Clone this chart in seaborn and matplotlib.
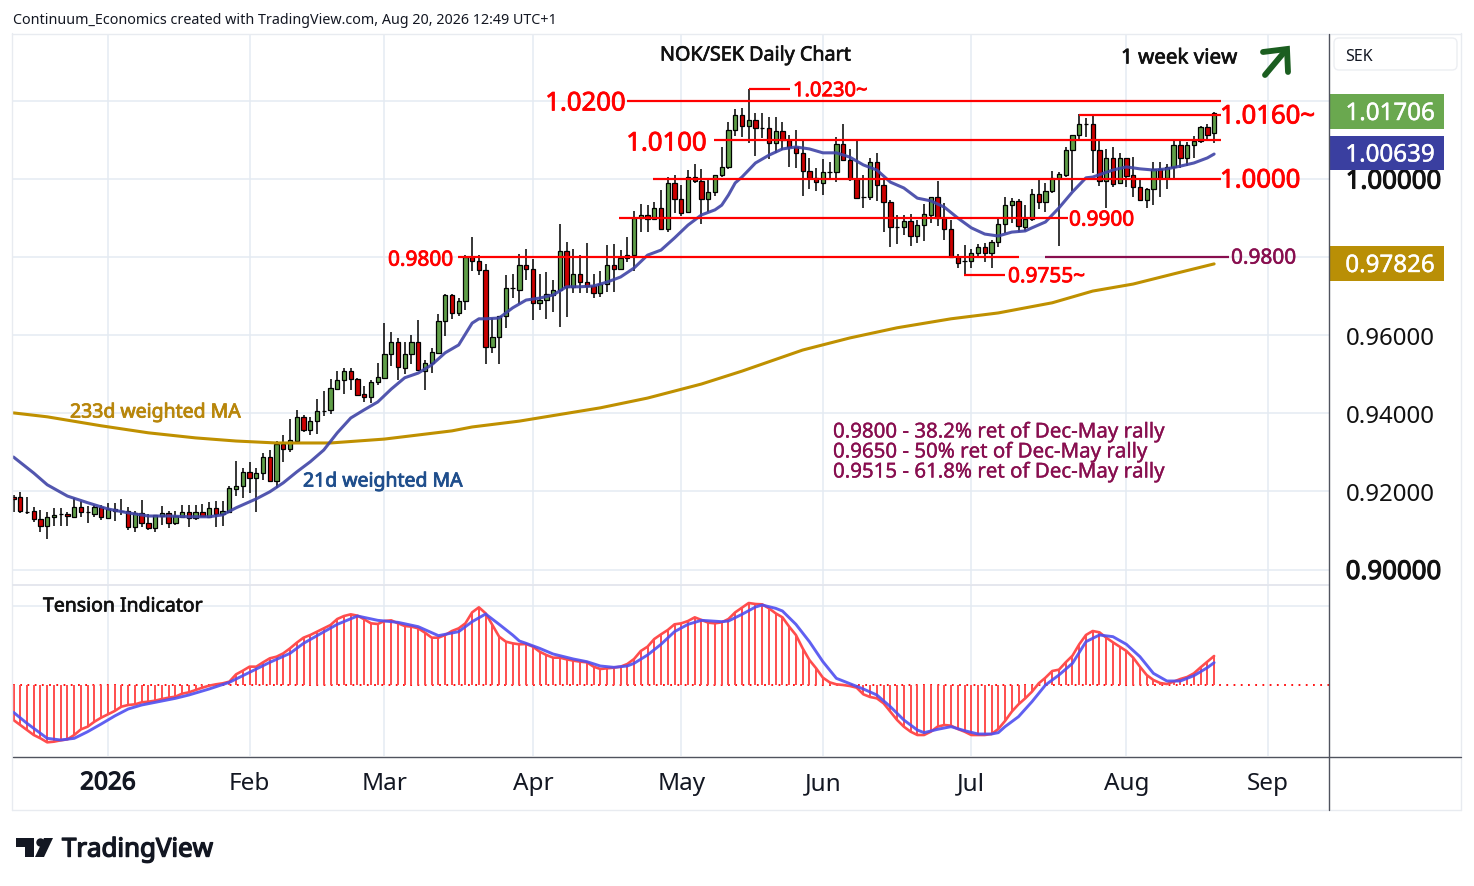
import matplotlib
matplotlib.use('Agg')
import matplotlib.pyplot as plt
import matplotlib.patheffects as pe
import numpy as np
import pandas as pd
import seaborn as sns
from matplotlib.patches import Rectangle, Polygon, Circle, FancyBboxPatch

# daily candles
open_vals = [
    .9185, .9185, .9148, .9149, .9129, .9112, .9134, .9141, .9141, .9135,
    .9159, .9147, .9143, .9159, .9133, .9154, .9151, .9149, .9108, .9144,
    .9118, .9106, .9138, .9144, .9118, .9135, .9147, .9131, .9147, .9135,
    .9157, .9141, .9148, .9207, .9213, .9249, .9235, .9246, .9287, .9226,
    .9322, .9308, .9330, .9391, .9356, .9381, .9407, .9409, .9463, .9484,
    .9508, .9487, .9449, .9443, .9479, .9491, .9551, .9582, .9517, .9551,
    .9582, .9509, .9528, .9555, .9636, .9702, .9656, .9687, .9801, .9789,
    .9766, .9569, .9596, .9648, .9720, .9717, .9781, .9769, .9682, .9689,
    .9703, .9715, .9815, .9724, .9756, .9735, .9727, .9707, .9730, .9781,
    .9770, .9797, .9806, .9899, .9909, .9897, .9925, .9871, .9989, .9948,
    .9915, 1.0006, .9994, .9948, .9966, 1.0009, 1.0030, 1.0125, 1.0163, 1.0135,
    1.0150, 1.0131, 1.0130, 1.0091, 1.0122, 1.0100, 1.0081, 1.0066, 1.0021, 1.0002,
    .9991, 1.0019, 1.0019, 1.0089, 1.0048, 1.0000, .9955, .9955, 1.0043, .9984,
    .9942, .9878, .9878, .9892, .9855, .9881, .9909, .9953, .9901, .9873,
    .9801, .9789, .9789, .9810, .9826, .9810, .9838, .9884, .9933, .9943,
    .9878, .9897, .9961, .9942, .9968, 1.0002, 1.0011, 1.0073, 1.0112, 1.0142,
    1.0142, 1.0073, .9994, 1.0053, .9989, 1.0053, 1.0009, .9980, .9947, .9974,
    1.0025, 1.0003, 1.0030, 1.0086, 1.0055, 1.0086, 1.0097, 1.0132, 1.0118]
close_vals = [
    .9180, .9149, .9148, .9129, .9112, .9134, .9139, .9141, .9136, .9159,
    .9147, .9147, .9159, .9134, .9154, .9149, .9151, .9108, .9144, .9118,
    .9106, .9139, .9144, .9118, .9137, .9147, .9131, .9147, .9136, .9157,
    .9141, .9149, .9208, .9213, .9249, .9235, .9246, .9287, .9226, .9322,
    .9308, .9332, .9391, .9356, .9381, .9407, .9407, .9464, .9484, .9508,
    .9487, .9448, .9443, .9479, .9492, .9551, .9582, .9518, .9551, .9582,
    .9510, .9528, .9556, .9636, .9702, .9656, .9687, .9801, .9789, .9766,
    .9569, .9596, .9648, .9720, .9720, .9781, .9769, .9682, .9689, .9705,
    .9715, .9815, .9724, .9756, .9735, .9727, .9707, .9730, .9781, .9770,
    .9797, .9806, .9899, .9909, .9897, .9925, .9871, .9989, .9948, .9914,
    1.0006, .9994, .9948, .9966, 1.0009, 1.0030, 1.0125, 1.0163, 1.0135, 1.0150,
    1.0131, 1.0131, 1.0091, 1.0122, 1.0100, 1.0081, 1.0066, 1.0021, 1.0002, .9992,
    1.0017, 1.0019, 1.0089, 1.0048, 1.0000, .9952, .9955, 1.0043, .9984, .9942,
    .9876, .9878, .9892, .9855, .9881, .9910, .9953, .9901, .9873, .9801,
    .9786, .9789, .9810, .9826, .9810, .9838, .9884, .9933, .9943, .9879,
    .9897, .9961, .9942, .9968, 1.0002, 1.0012, 1.0073, 1.0113, 1.0140, 1.0142,
    1.0073, .9994, 1.0053, .9988, 1.0053, 1.0008, .9980, .9947, .9974, 1.0025,
    1.0003, 1.0030, 1.0086, 1.0055, 1.0086, 1.0097, 1.0132, 1.0112, 1.0170]
high_vals = [
    .9191, .9198, .9185, .9159, .9153, .9147, .9157, .9157, .9147, .9182,
    .9176, .9163, .9165, .9165, .9170, .9170, .9180, .9159, .9151, .9178,
    .9142, .9139, .9163, .9151, .9151, .9164, .9164, .9164, .9168, .9173,
    .9175, .9175, .9213, .9278, .9259, .9275, .9259, .9298, .9306, .9328,
    .9345, .9386, .9409, .9396, .9391, .9437, .9457, .9487, .9508, .9517,
    .9517, .9490, .9471, .9486, .9530, .9630, .9607, .9593, .9582, .9601,
    .9639, .9537, .9566, .9654, .9706, .9706, .9694, .9805, .9852, .9805,
    .9782, .9643, .9650, .9754, .9758, .9808, .9822, .9794, .9758, .9763,
    .9741, .9885, .9838, .9822, .9805, .9835, .9758, .9765, .9831, .9833,
    .9818, .9851, .9918, .9935, .9933, .9942, .9972, 1.0006, 1.0010, .9985,
    1.0023, 1.0038, 1.0025, 1.0000, 1.0009, 1.0083, 1.0145, 1.0179, 1.0181, 1.0230,
    1.0168, 1.0168, 1.0158, 1.0160, 1.0147, 1.0113, 1.0125, 1.0097, 1.0053, 1.0027,
    1.0050, 1.0043, 1.0107, 1.0141, 1.0078, 1.0097, 1.0010, 1.0053, 1.0066, .9999,
    .9946, .9908, .9908, .9910, .9895, .9936, .9953, .9995, .9939, .9895,
    .9808, .9831, .9820, .9833, .9837, .9844, .9899, .9953, .9951, .9949,
    .9933, .9974, .9997, .9989, 1.0020, 1.0019, 1.0081, 1.0113, 1.0166, 1.0155,
    1.0164, 1.0100, 1.0078, 1.0083, 1.0066, 1.0053, 1.0057, .9997, .9978, 1.0044,
    1.0044, 1.0038, 1.0098, 1.0100, 1.0096, 1.0110, 1.0136, 1.0142, 1.0172]
low_vals = [
    .9148, .9144, .9142, .9121, .9097, .9077, .9112, .9112, .9112, .9132,
    .9135, .9120, .9135, .9126, .9130, .9125, .9140, .9101, .9097, .9110,
    .9100, .9096, .9115, .9107, .9114, .9131, .9110, .9127, .9134, .9134,
    .9110, .9112, .9144, .9187, .9182, .9195, .9147, .9229, .9225, .9208,
    .9276, .9300, .9328, .9353, .9345, .9347, .9393, .9398, .9460, .9450,
    .9460, .9447, .9429, .9426, .9473, .9490, .9522, .9484, .9501, .9526,
    .9508, .9460, .9504, .9552, .9599, .9642, .9650, .9665, .9765, .9754,
    .9526, .9555, .9526, .9618, .9695, .9680, .9741, .9639, .9664, .9642,
    .9660, .9622, .9646, .9707, .9707, .9707, .9696, .9698, .9711, .9711,
    .9770, .9787, .9765, .9863, .9865, .9895, .9869, .9863, .9912, .9904,
    .9914, .9989, .9885, .9916, .9957, 1.0006, 1.0025, 1.0110, 1.0108, 1.0093,
    1.0059, 1.0104, 1.0051, 1.0066, 1.0074, 1.0030, 1.0027, .9957, .9974, .9970,
    .9959, .9999, .9993, 1.0046, .9995, .9949, .9927, .9946, .9944, .9865,
    .9827, .9833, .9857, .9829, .9835, .9841, .9888, .9880, .9844, .9799,
    .9771, .9754, .9771, .9801, .9787, .9773, .9827, .9861, .9887, .9863,
    .9867, .9893, .9923, .9916, .9963, .9829, 1.0004, .9970, 1.0102, 1.0108,
    1.0016, .9983, .9926, .9980, .9988, .9980, .9955, .9946, .9927, .9933,
    .9955, .9975, 1.0003, 1.0029, 1.0033, 1.0054, 1.0091, 1.0102, 1.0093]

# moving averages, read at the bars listed
ma21_bars = [0, 3, 5, 8, 11, 14, 17, 20, 23, 26, 29, 31, 33, 36, 38, 40, 42, 44, 46, 48, 50, 52, 54, 56, 58, 60,
             62, 64, 66, 68, 69, 70, 72, 74, 76, 78, 80, 82, 84, 86, 88, 90, 92, 94, 96, 98, 100, 102, 104, 105,
             106, 107, 108, 110, 112, 114, 116, 118, 120, 122, 124, 126, 128, 130, 132, 134, 136, 138, 140, 142,
             144, 146, 148, 150, 151, 153, 155, 157, 159, 160, 163, 165, 167, 169, 171, 173, 175, 177, 178]
ma21_vals = [.9288, .9247, .9217, .9188, .9171, .9155, .9145, .9137, .9137, .9135, .9135, .9140, .9158, .9181,
             .9199, .9222, .9250, .9276, .9306, .9350, .9388, .9409, .9429, .9462, .9491, .9503, .9524, .9555,
             .9575, .9631, .9642, .9642, .9644, .9670, .9690, .9695, .9703, .9724, .9724, .9726, .9736, .9749,
             .9772, .9805, .9818, .9849, .9882, .9908, .9921, .9933, .9959, .9990, 1.0005, 1.0041, 1.0061, 1.0077,
             1.0082, 1.0077, 1.0067, 1.0067, 1.0056, 1.0036, 1.0023, .9992, .9977, .9951, .9944, .9928, .9900,
             .9875, .9859, .9854, .9864, .9867, .9875, .9890, .9926, .9967, 1.0003, 1.0005, 1.0023, 1.0031,
             1.0026, 1.0023, 1.0026, 1.0033, 1.0041, 1.0054, 1.00639]
ma233_bars = [0, 5, 13, 20, 27, 33, 39, 47, 55, 65, 68, 75, 87, 94, 102, 108, 117, 124, 131, 139, 146, 154, 160,
              166, 172, 178]
ma233_vals = [.9401, .9391, .9368, .9350, .9337, .9329, .9324, .9324, .9334, .9355, .9365, .9380, .9414, .9439,
              .9475, .9508, .9562, .9593, .9619, .9642, .9657, .9683, .9713, .9731, .9757, .97826]

# tension indicator (arbitrary units, axis is not labelled)
tension_vals = [
    -105, -120, -135, -150, -160, -172, -170, -166, -163, -150,
    -133, -125, -110, -98, -88, -78, -65, -60, -58, -52,
    -50, -47, -42, -38, -35, -26, -22, -15, -8, -2,
    2, 5, 10, 32, 43, 55, 55, 68, 80, 85,
    95, 110, 127, 142, 150, 160, 170, 180, 198, 207,
    212, 208, 197, 185, 183, 192, 194, 185, 177, 175,
    170, 157, 142, 142, 150, 162, 170, 185, 218, 233,
    215, 180, 145, 130, 125, 122, 123, 115, 100, 90,
    82, 82, 77, 73, 70, 68, 55, 48, 50, 52,
    55, 63, 78, 102, 115, 138, 152, 165, 182, 185,
    192, 203, 195, 187, 185, 188, 198, 218, 232, 246,
    243, 242, 230, 215, 203, 175, 150, 110, 75, 50,
    22, 8, 2, 0, -3, -8, -28, -36, -40, -55,
    -80, -105, -125, -140, -150, -150, -140, -125, -120, -122,
    -132, -140, -150, -150, -150, -147, -132, -108, -80, -58,
    -40, -20, 5, 22, 42, 46, 68, 88, 122, 150,
    162, 158, 142, 128, 115, 102, 82, 55, 30, 15,
    6, 3, 10, 18, 24, 35, 53, 70, 87]
signal_bars = [0, 2, 4, 5, 7, 9, 11, 13, 15, 17, 19, 21, 24, 26, 29, 32, 34, 36, 38, 41, 43, 45, 48, 51, 54, 57, 60,
               63, 66, 68, 70, 72, 74, 75, 76, 78, 80, 83, 85, 87, 89, 91, 92, 94, 96, 98, 100, 102, 105, 106, 108,
               110, 111, 113, 114, 116, 118, 120, 122, 124, 126, 128, 130, 132, 134, 135, 137, 139, 141, 143, 145,
               146, 147, 149, 151, 153, 155, 157, 159, 161, 163, 165, 167, 169, 171, 173, 175, 177, 178]
signal_vals = [-82, -115, -145, -160, -165, -160, -140, -117, -93, -72, -60, -52, -40, -30, -12, 8, 28, 48, 68, 95,
               125, 148, 182, 207, 194, 188, 175, 148, 160, 190, 213, 182, 150, 132, 125, 110, 93, 78, 70, 57, 53,
               57, 65, 90, 122, 160, 182, 194, 190, 192, 212, 234, 240, 230, 222, 182, 130, 70, 20, 4, -12, -30,
               -65, -105, -135, -143, -133, -125, -137, -147, -147, -143, -125, -95, -50, 0, 30, 65, 130, 150, 145,
               122, 85, 35, 12, 12, 28, 52, 67]

month_bars = [14, 35, 55, 77, 99, 120, 142, 165, 186]
month_labels = ['2026', 'Feb', 'Mar', 'Apr', 'May', 'Jun', 'Jul', 'Aug', 'Sep']
price_ticks = [0.90, 0.92, 0.94, 0.96, 0.98, 1.00, 1.02]

last_close = 1.01706

# red support / resistance levels: price, label
level_prices = [1.0230, 1.0200, 1.0164, 1.0100, 1.0000, 0.9900, 0.9800, 0.9755]
level_labels = ['1.0230~', '1.0200', '1.0160~', '1.0100', '1.0000', '0.9900', '0.9800', '0.9755~']
retrace_price = 0.9800
retrace_lines = ['0.9800 - 38.2% ret of Dec-May rally',
                 '0.9650 - 50% ret of Dec-May rally',
                 '0.9515 - 61.8% ret of Dec-May rally']

# layout, in pixels of the 1474x887 picture
W, H = 1474, 887
LEFT, RIGHT = 13, 1329
MAIN_TOP, MAIN_BOT = 35, 585
LOW_TOP, LOW_BOT = 586, 757
BAR0, BAR_STEP = 13.5, 6.745
# level: x from, x to, label x, label anchor, font size, label drop
level_layout = [(749, 790, 793, 'left', 14.5, 2), (627, 1221, 626, 'right', 18.5, 3),
                (1079, 1221, 1220, 'left', 18.5, 2), (714, 1221, 707, 'right', 18.5, 4),
                (653, 1221, 1220, 'left', 18.5, 2), (619, 1068, 1069, 'left', 15, 2),
                (458, 1019, 453, 'right', 15, 3), (964, 1005, 1008, 'left', 15, 2)]

GRID = '#e4ebf2'
GREEN = '#5f9e48'
RED = '#cc0000'
LEVEL = '#ff0000'
PURPLE = '#880e4f'
BLUE = '#3f44a6'
GOLD = '#bf9000'
TEXT_DROP = 2.5


def bar_at(px):
    return (px - BAR0) / BAR_STEP


def pane(top, bottom):
    return [LEFT / W, 1 - bottom / H, (RIGHT - LEFT) / W, (bottom - top) / H]


# Noto Sans only ships a regular weight here, so thicken it with an outline
def heavy(color, width=0.5):
    return [pe.withStroke(linewidth=width, foreground=color)]


sns.set_theme(style='white')
plt.rcParams['font.family'] = ['Noto Sans', 'DejaVu Sans']

candles = pd.DataFrame({'open': open_vals, 'high': high_vals, 'low': low_vals, 'close': close_vals})
candles['bar'] = candles.index
candles['color'] = np.where(candles['close'] >= candles['open'], GREEN, RED)

fig = plt.figure(figsize=(W / 100, H / 100), dpi=100, facecolor='white')
ax = fig.add_axes(pane(MAIN_TOP, MAIN_BOT))
low = fig.add_axes(pane(LOW_TOP, LOW_BOT))
for a in (ax, low):
    a.set_xlim(bar_at(LEFT), bar_at(RIGHT))
    a.set_xticks(month_bars)
    a.grid(True, color=GRID, lw=1.1)
    a.set_axisbelow(True)
    sns.despine(ax=a, left=True, bottom=True, right=True, top=True)

# price pane
ax.set_ylim(1 + (180 - MAIN_BOT) / 3905, 1 + (180 - MAIN_TOP) / 3905)
ax.yaxis.tick_right()
ax.set_yticks(price_ticks)
ax.set_yticklabels([f'{p:.5f}' for p in price_ticks], fontsize=17.3, color='#111111')
ax.tick_params(axis='y', length=0, pad=12)
ax.tick_params(axis='x', length=0, labelbottom=False)
for i in (0, 5):
    tick = ax.get_yticklabels()[i]
    tick.set_fontsize(18.6)
    tick.set_path_effects(heavy('#111111', 0.8))

ax.vlines(candles['bar'], candles['low'], candles['high'], color='black', lw=1.1, zorder=2)
ax.bar(candles['bar'], (candles['close'] - candles['open']), bottom=candles['open'], width=0.64,
       color=candles['color'], edgecolor='black', linewidth=0.9, zorder=3)
sns.lineplot(x=ma233_bars, y=ma233_vals, color=GOLD, lw=2.2, ax=ax, zorder=4)
sns.lineplot(x=ma21_bars, y=ma21_vals, color=BLUE, lw=2.2, alpha=0.9, ax=ax, zorder=4)

for price, label_text, (x0, x1, tx, anchor, size, drop) in zip(level_prices, level_labels, level_layout):
    ax.hlines(price, bar_at(x0), bar_at(x1), color=LEVEL, lw=1.6, zorder=5)
    ax.annotate(label_text, (bar_at(tx), price), xytext=(0, -drop * 0.72), textcoords='offset points',
                color=LEVEL, fontsize=size, ha=anchor, va='center', zorder=6, path_effects=heavy(LEVEL, 0.6))
ax.hlines(retrace_price, bar_at(1045), bar_at(1229), color=PURPLE, lw=1.6, zorder=5)
ax.annotate('0.9800', (bar_at(1231), retrace_price), xytext=(0, -0.72), textcoords='offset points', color=PURPLE,
            fontsize=15, va='center', zorder=6, path_effects=heavy(PURPLE, 0.4))

# tension indicator pane
low.set_ylim(-213, 300)
low.set_yticks([237])
low.tick_params(axis='y', length=0, labelleft=False)
low.set_xticklabels(month_labels, fontsize=17.5, color='#131722')
low.get_xticklabels()[0].set_path_effects(heavy('#131722', 0.9))
low.tick_params(axis='x', length=0, pad=11)
low.axhline(0, color=LEVEL, lw=1.3, ls=(0, (1, 3)), zorder=2)
low.vlines(range(len(tension_vals)), 0, tension_vals, color='#ff4d4d', lw=1.4, zorder=3)
sns.lineplot(x=range(len(tension_vals)), y=tension_vals, color='#ff4d4d', lw=1.9, ax=low, zorder=4)
sns.lineplot(x=signal_bars, y=signal_vals, color='#4f4ff0', lw=2.1, alpha=0.9, ax=low, zorder=5)
low.set_xlabel('')
ax.set_xlabel('')
ax.set_ylabel('')
low.set_ylabel('')

# everything else goes on a transparent layer in picture pixels
ov = fig.add_axes([0, 0, 1, 1], facecolor='none', zorder=10)
ov.set_xlim(0, W)
ov.set_ylim(H, 0)
ov.axis('off')


def label(x, y, s, size, color='#111111', width=0.0, **kw):
    kw.setdefault('va', 'center')
    effects = heavy(color, width) if width else None
    return ov.text(x, y + TEXT_DROP, s, fontsize=size, color=color, path_effects=effects, **kw)


for y in (34.5, 811.5):
    ov.plot([12, 1461], [y, y], color='#e8ebf0', lw=1)
for x in (12.5, 1461):
    ov.plot([x, x], [34, 811], color='#e8ebf0', lw=1)
ov.plot([13, 1329], [585.5, 585.5], color='#e0e3eb', lw=1.2)
ov.plot([1329.5, 1329.5], [35, 811], color='#50535e', lw=1)
ov.plot([13, 1461], [757.5, 757.5], color='#50535e', lw=1)

ov.add_patch(FancyBboxPatch((1336, 41), 119, 28, boxstyle='round,pad=2,rounding_size=5', fc='white', ec='#eceef2', lw=1))
label(1345, 54.2, 'SEK', 11.5, '#131722')

for top, bottom, color, value in [(95, 130, '#6aa84f', last_close), (137, 171, '#3a3fa0', ma21_vals[-1]),
                                  (247, 282, '#b98f06', ma233_vals[-1])]:
    ov.add_patch(Rectangle((1330, top), 114, bottom - top, fc=color, ec='none'))
    label(1390, (top + bottom) / 2, f'{value:.5f}', 17.4, 'white', 0.3, ha='center')

label(13, 18.2, 'Continuum_Economics created with TradingView.com, Aug 20, 2026 12:49 UTC+1', 10.3, '#131722')
label(660, 54, 'NOK/SEK Daily Chart', 14.2, width=0.5)
label(1121, 57, '1 week view', 14.8, width=0.5)
ov.plot([1265, 1286], [76, 51], color='#1b5e20', lw=4.2, solid_capstyle='round')
ov.plot([1263, 1287, 1288], [53, 50, 73], color='#1b5e20', lw=4.2, solid_capstyle='round', solid_joinstyle='miter')

label(70, 411, '233d weighted MA', 14, '#b8860b', 0.6)
label(303, 480, '21d weighted MA', 14, '#1f4e8c', 0.6)
label(43, 605, 'Tension Indicator', 14, width=0.5)
for y, line in zip((431, 451, 471), retrace_lines):
    label(833, y, line, 14.75, PURPLE, 0.25)

# TradingView footer
ov.add_patch(Polygon([(16, 839), (34, 839), (34, 858), (25, 858), (25, 848), (16, 848)], fc='#131722', ec='none'))
ov.add_patch(Circle((40.5, 843.5), 4.2, fc='#131722', ec='none'))
ov.add_patch(Polygon([(44, 839), (53, 839), (44, 858), (35, 858)], fc='#131722', ec='none'))
label(62, 848.5, 'TradingView', 18.6, '#131722', 1.0)

fig.savefig('out.png', dpi=100)
